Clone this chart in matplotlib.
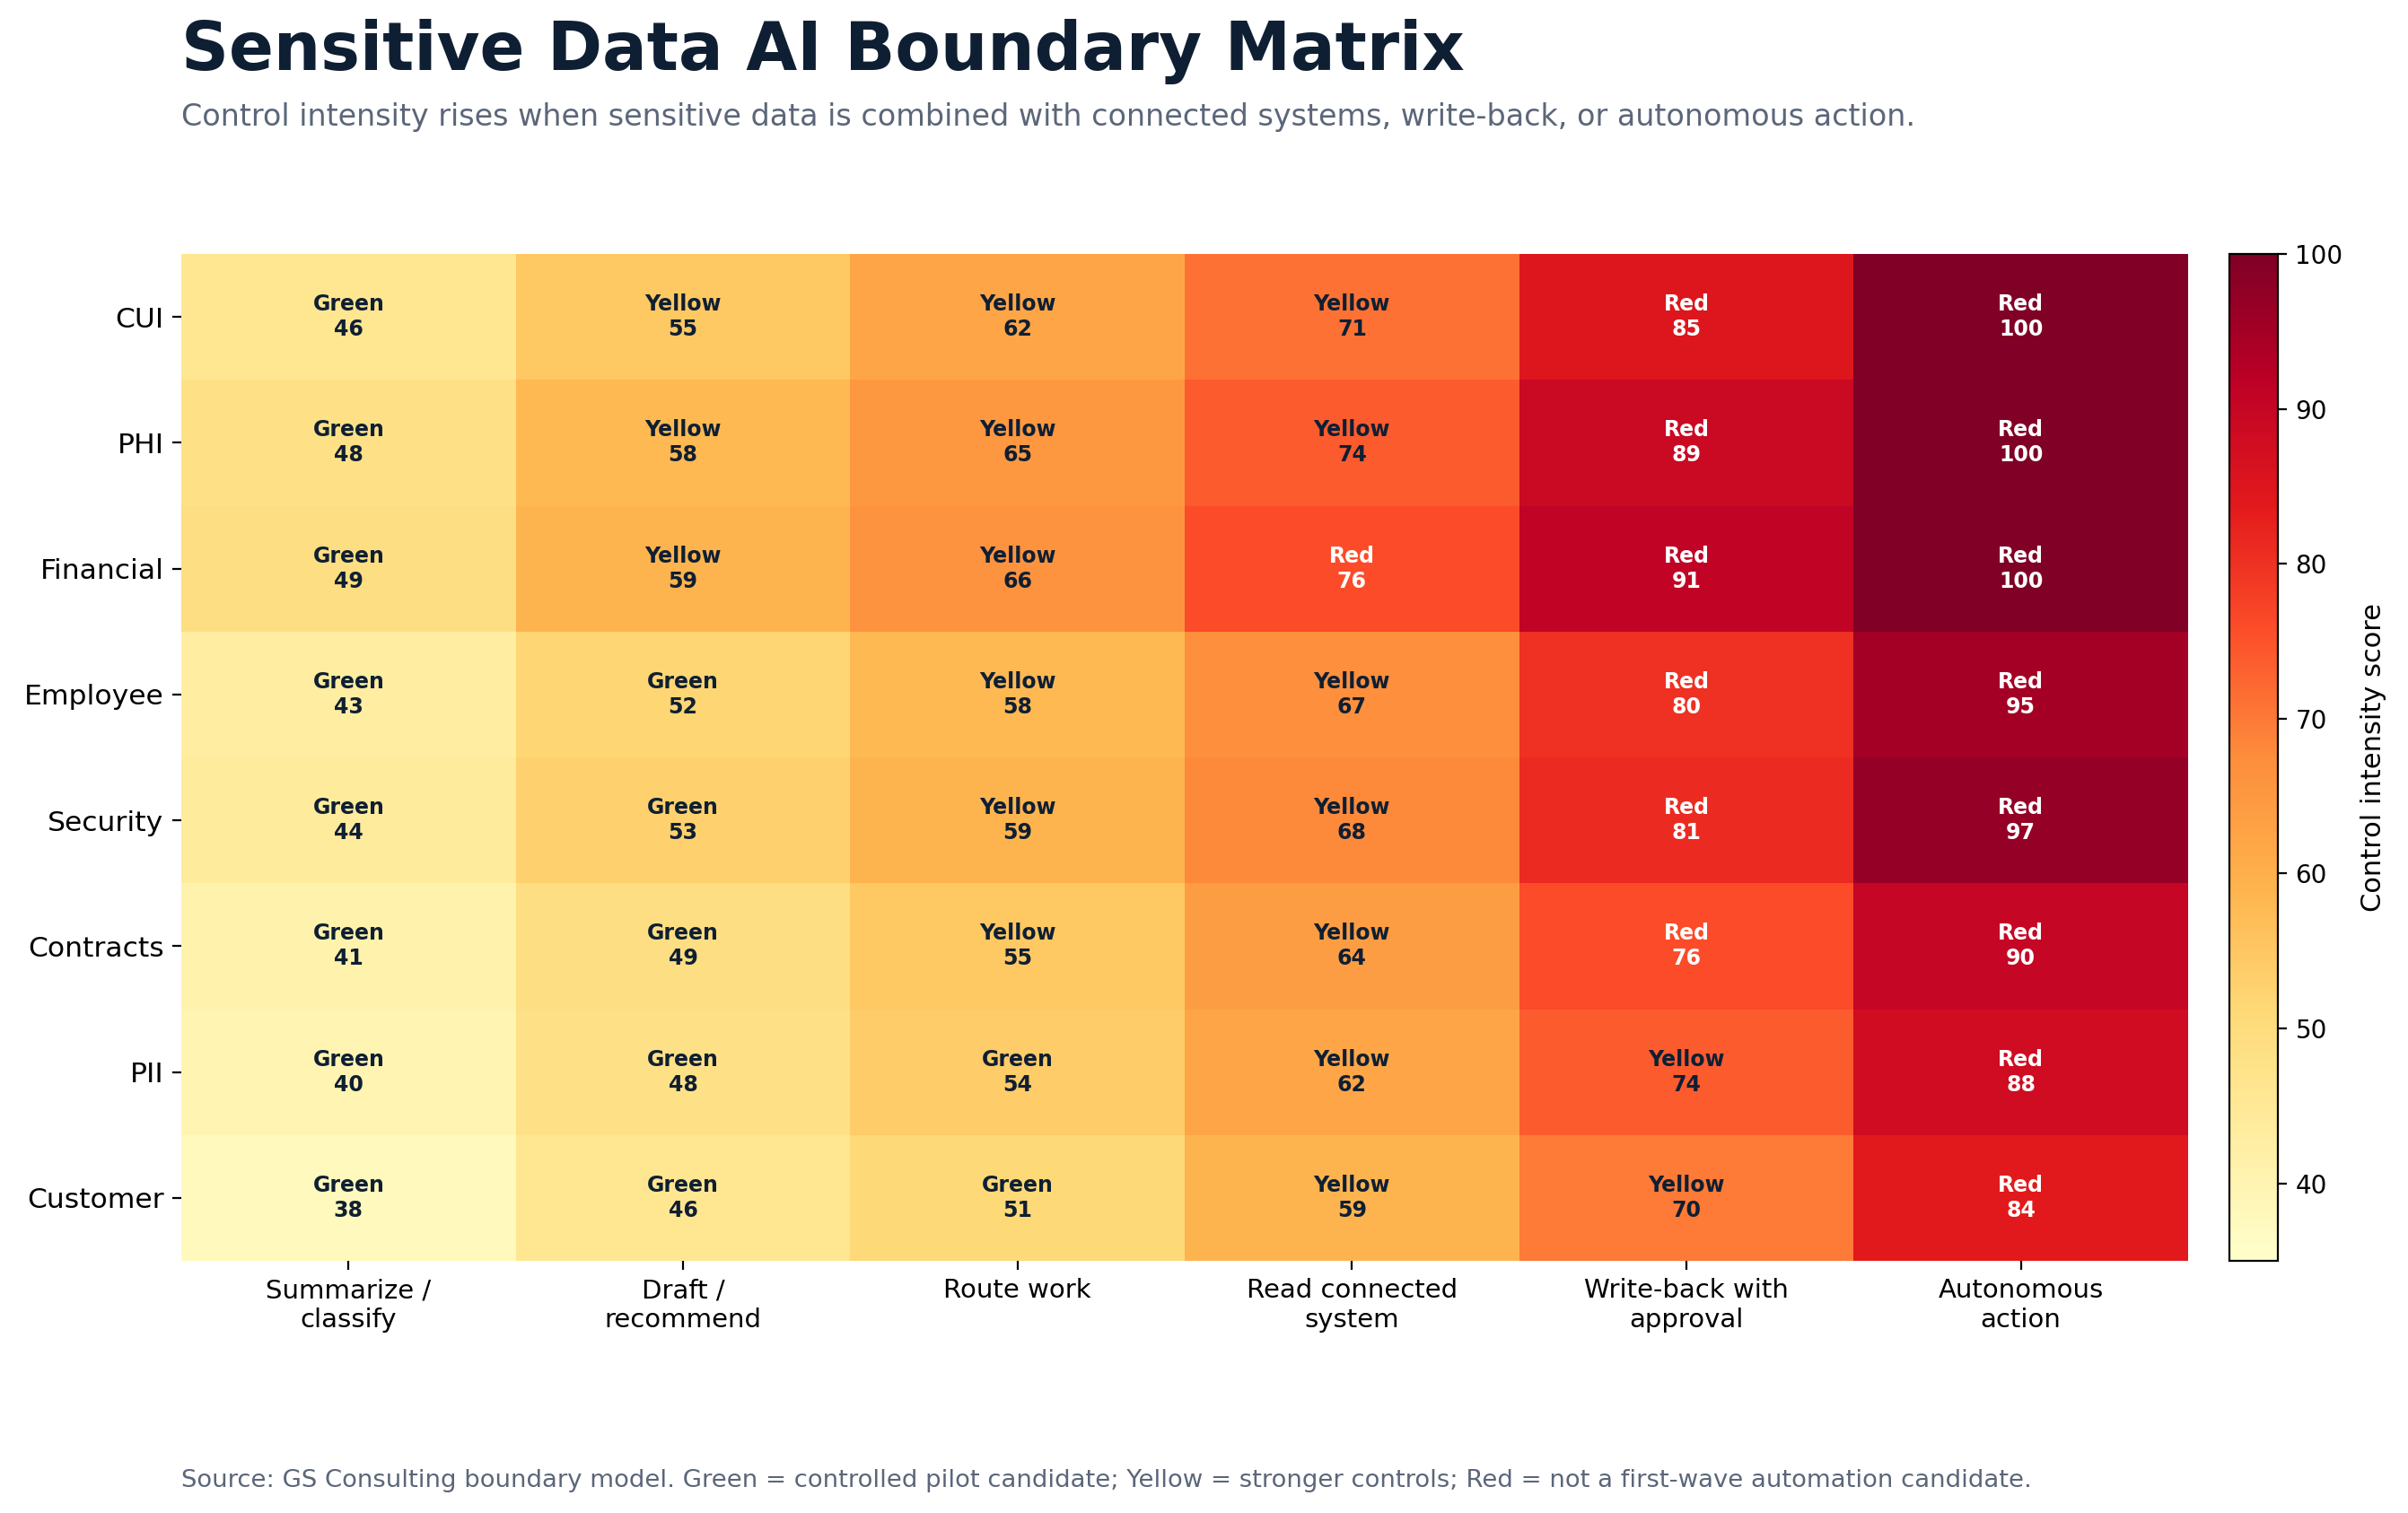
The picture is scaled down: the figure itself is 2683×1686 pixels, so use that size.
import matplotlib
matplotlib.use("Agg")
import matplotlib.pyplot as plt
import numpy as np

# -------------------------
# DATA
# -------------------------
DATA_TYPES = ["CUI", "PHI", "Financial", "Employee", "Security", "Contracts", "PII", "Customer"]
ACTIONS = [
    "Summarize /\nclassify",
    "Draft /\nrecommend",
    "Route work",
    "Read connected\nsystem",
    "Write-back with\napproval",
    "Autonomous\naction",
]
SCORES = [
    [46, 55, 62, 71, 85, 100],
    [48, 58, 65, 74, 89, 100],
    [49, 59, 66, 76, 91, 100],
    [43, 52, 58, 67, 80, 95],
    [44, 53, 59, 68, 81, 97],
    [41, 49, 55, 64, 76, 90],
    [40, 48, 54, 62, 74, 88],
    [38, 46, 51, 59, 70, 84],
]
YELLOW_AT = 55
RED_AT = 75

TITLE = "Sensitive Data AI Boundary Matrix"
SUBTITLE = ("Control intensity rises when sensitive data is combined with connected systems, "
            "write-back, or autonomous action.")
FOOTER = ("Source: GS Consulting boundary model. Green = controlled pilot candidate; "
          "Yellow = stronger controls; Red = not a first-wave automation candidate.")

DARK = "#0f1f33"
SLATE = "#5b6679"


def zone(v):
    if v >= RED_AT:
        return "Red"
    if v >= YELLOW_AT:
        return "Yellow"
    return "Green"


W, H, DPI = 2683, 1686, 200
fig = plt.figure(figsize=(W / DPI, H / DPI), dpi=DPI)

ax = fig.add_axes([202 / W, 1 - 1405 / H, (2438 - 202) / W, (1405 - 283) / H])
cax = fig.add_axes([2484 / W, 1 - 1405 / H, 54 / W, (1405 - 283) / H])

vals = np.array(SCORES, dtype=float)
im = ax.pcolormesh(vals, cmap="YlOrRd", vmin=35, vmax=100)
ax.set_xlim(0, len(ACTIONS))
ax.set_ylim(len(DATA_TYPES), 0)

for sp in ax.spines.values():
    sp.set_visible(False)

ax.set_xticks(np.arange(len(ACTIONS)) + 0.5)
ax.set_xticklabels(ACTIONS, fontsize=10.5)
ax.set_yticks(np.arange(len(DATA_TYPES)) + 0.5)
ax.set_yticklabels(DATA_TYPES, fontsize=11.3)

for i, row in enumerate(SCORES):
    for j, v in enumerate(row):
        z = zone(v)
        ax.text(j + 0.5, i + 0.5, f"{z}\n{v}", ha="center", va="center",
                fontsize=8.5, fontweight="bold",
                color="white" if z == "Red" else DARK)

cb = fig.colorbar(im, cax=cax)
cb.ax.tick_params(labelsize=10)
cb.set_label("Control intensity score", fontsize=11, labelpad=7)

fig.text(202 / W, 1 - 78 / H, TITLE, fontsize=26.5, fontweight="bold",
         color=DARK, ha="left", va="baseline")
fig.text(202 / W, 1 - 140 / H, SUBTITLE, fontsize=12, color=SLATE,
         ha="left", va="baseline")
fig.text(202 / W, 1 - 1657 / H, FOOTER, fontsize=9.9, color=SLATE,
         ha="left", va="baseline")

fig.savefig("out.png", dpi=DPI)
